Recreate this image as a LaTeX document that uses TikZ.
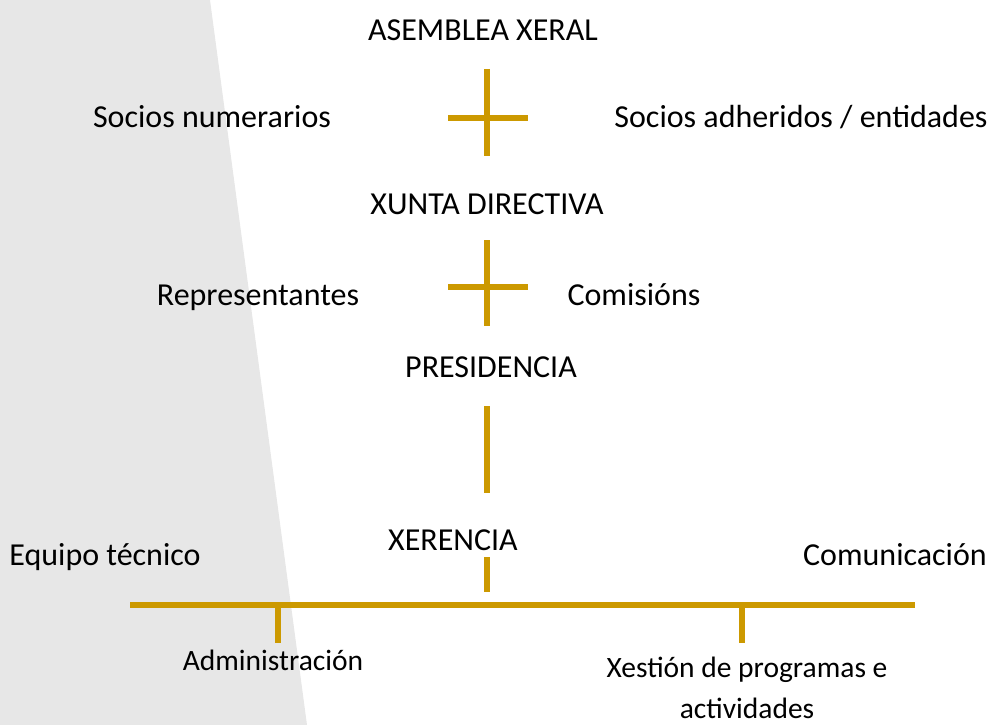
\documentclass[tikz,border=0pt]{standalone}
\usepackage{fontspec}
\setmainfont{Carlito}
\definecolor{gold}{RGB}{204,153,0}
\definecolor{bggray}{RGB}{231,231,231}
\begin{document}
\begin{tikzpicture}[x=1pt,y=-1pt,
  lbl/.style={font=\fontsize{32}{38}\selectfont, inner sep=0pt, anchor=base},
  small/.style={font=\fontsize{29.5}{41}\selectfont, inner sep=0pt, anchor=base, align=center},
  bar/.style={draw=gold, line width=6.5pt}]
\useasboundingbox (0,0) rectangle (991,725);
\fill[bggray] (0,0) -- (210,0) -- (307,725) -- (0,725) -- cycle;
% texts
\node[lbl] (asem) at (483,41) {ASEMBLEA XERAL};
\node[lbl] (snum) at (212,127) {Socios numerarios};
\node[lbl] (sadh) at (801,127) {Socios adheridos / entidades};
\node[lbl] (xunta) at (487,214) {XUNTA DIRECTIVA};
\node[lbl] (repr) at (258,305) {Representantes};
\node[lbl] (comi) at (634,305) {Comisións};
\node[lbl] (pres) at (491,377) {PRESIDENCIA};
\node[lbl] (xer) at (453,550) {XERENCIA};
\node[lbl] (equi) at (105,565) {Equipo técnico};
\node[lbl, anchor=base east] (comu) at (987,565) {Comunicación};
\node[small] (admi) at (273,670) {Administración};
\node[small] (xest) at (747,718) {Xestión de programas e\\actividades};
% cross 1
\coordinate (c1t) at (487,69); \coordinate (c1b) at (487,156);
\coordinate (c1l) at (448,118); \coordinate (c1r) at (528,118);
\draw[bar] (c1t) -- (c1b); \draw[bar] (c1l) -- (c1r);
% cross 2
\coordinate (c2t) at (487,240); \coordinate (c2b) at (487,326);
\coordinate (c2l) at (448,287); \coordinate (c2r) at (528,287);
\draw[bar] (c2t) -- (c2b); \draw[bar] (c2l) -- (c2r);
% vertical
\coordinate (v3t) at (487,406); \coordinate (v3b) at (487,493);
\draw[bar] (v3t) -- (v3b);
\coordinate (v4t) at (487,557); \coordinate (v4b) at (487,592);
\draw[bar] (v4t) -- (v4b);
% bus
\coordinate (busl) at (130,605); \coordinate (busr) at (915,605);
\draw[bar] (busl) -- (busr);
\coordinate (s1t) at (278,605); \coordinate (s1b) at (278,643);
\coordinate (s2t) at (742,605); \coordinate (s2b) at (742,643);
\draw[bar] (s1t) -- (s1b); \draw[bar] (s2t) -- (s2b);
\end{tikzpicture}
\end{document}
